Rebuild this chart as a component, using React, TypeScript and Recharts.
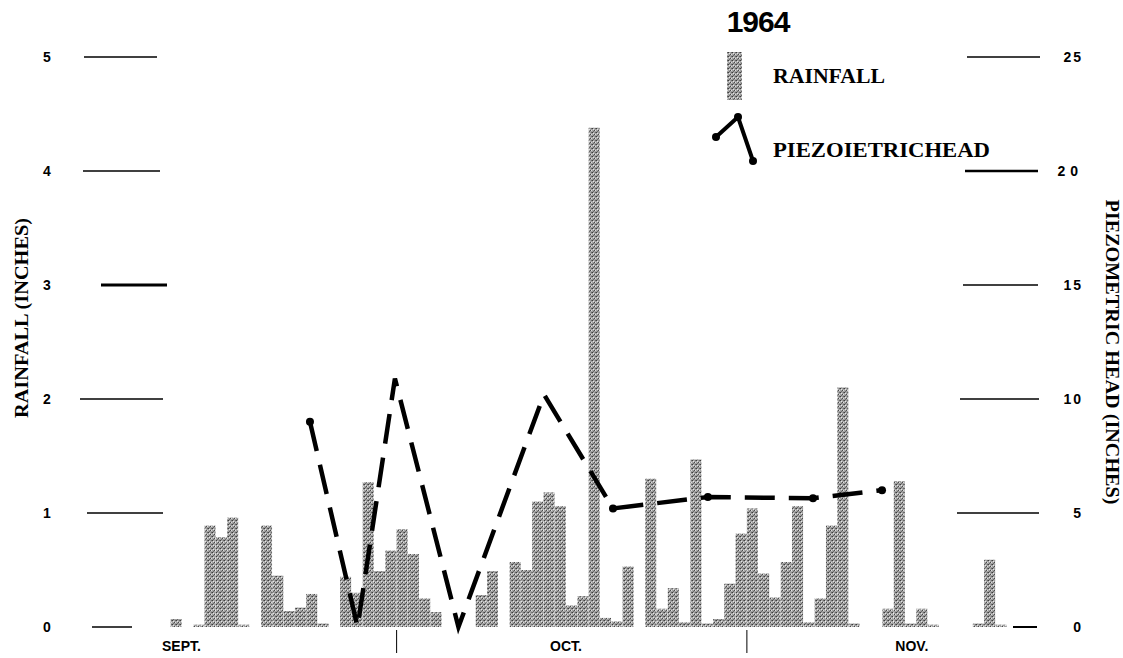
import { ComposedChart, Bar, Line, XAxis, YAxis, Legend } from "recharts"

// daily rainfall (inches), one bar per day starting Sept. 11
const rainfall = [
  0.07, 0, 0.02, 0.89, 0.79, 0.96, 0.02, 0, 0.89, 0.45,
  0.14, 0.17, 0.29, 0.03, 0, 0.44, 0.3, 1.27, 0.49, 0.67,
  0.86, 0.64, 0.25, 0.13, 0, 0, 0, 0.28, 0.49, 0,
  0.57, 0.5, 1.1, 1.18, 1.06, 0.19, 0.27, 4.38, 0.08, 0.05,
  0.53, 0, 1.3, 0.16, 0.34, 0.04, 1.47, 0.03, 0.07, 0.38,
  0.82, 1.04, 0.47, 0.26, 0.57, 1.06, 0.04, 0.25, 0.89, 2.1,
  0.03, 0, 0, 0.16, 1.28, 0.03, 0.16, 0.02, 0, 0,
  0, 0.03, 0.59, 0.02,
]

// piezometric head readings (inches); marked = drawn with a dot in the original
const piezoDays = [12.33, 16.54, 19.85, 25.47, 33.04, 39.15, 47.55, 56.85, 62.96]
const piezoHead = [9.0, 0, 10.9, 0, 10.2, 5.2, 5.7, 5.65, 6.0]
const piezoMarked = [true, false, false, false, false, true, true, true, true]

const leftTicks = [0, 1, 2, 3, 4, 5]
const rightTicks = [0, 5, 10, 15, 20, 25]
const monthLabels = ["SEPT.", "OCT.", "NOV."]
const monthLabelDays = [0.96, 34.99, 65.6]
const monthBoundaryDays = [20.0, 51.0]

const rainData = rainfall.map((rain, i) => ({ day: i + 0.5, rain }))
const piezoData = piezoDays.map((day, i) => ({ day, head: piezoHead[i], marked: piezoMarked[i] }))

const DAY_DOMAIN: [number, number] = [-0.5, 76.5]
const SANS = "'Liberation Sans', Arial, sans-serif"
const SERIF = "'Liberation Serif', 'Times New Roman', serif"

// [x1, x2, strokeWidth] of the scanned stub lines
const leftStubs: Record<number, [number, number, number]> = {
  0: [92, 132, 1.5],
  1: [87, 163, 1.5],
  2: [80, 163, 1.5],
  3: [101, 167, 3],
  4: [83, 160, 1.5],
  5: [84, 157, 1.5],
}
const rightStubs: Record<number, [number, number, number]> = {
  0: [1013, 1037, 2],
  5: [957, 1039, 1.5],
  10: [960, 1039, 1.5],
  15: [963, 1038, 1.5],
  20: [965, 1038, 2.5],
  25: [967, 1040, 1.5],
}

function LeftTick({ y, payload }: any) {
  const [x1, x2, w] = leftStubs[payload.value] ?? [85, 160, 1.5]
  return (
    <g>
      <line x1={x1} x2={x2} y1={y} y2={y} stroke="#000" strokeWidth={w} />
      <text x={47} y={y} dy={5} textAnchor="middle" fontFamily={SANS} fontWeight="bold" fontSize={14} fill="#000">
        {payload.value}
      </text>
    </g>
  )
}

function RightTick({ y, payload }: any) {
  const [x1, x2, w] = rightStubs[payload.value] ?? [960, 1039, 1.5]
  return (
    <g>
      <line x1={x1} x2={x2} y1={y} y2={y} stroke="#000" strokeWidth={w} />
      <text
        x={1083}
        y={y}
        dy={5}
        textAnchor="end"
        fontFamily={SANS}
        fontWeight="bold"
        fontSize={14}
        letterSpacing={payload.value === 20 ? 5 : 2}
        fill="#000"
      >
        {payload.value}
      </text>
    </g>
  )
}

function MonthTick({ x, payload }: any) {
  if (monthBoundaryDays.includes(payload.value)) {
    return <line x1={x} x2={x} y1={630} y2={653} stroke="#000" strokeWidth={1} />
  }
  const label = monthLabels[monthLabelDays.indexOf(payload.value)]
  return (
    <text x={x} y={651} textAnchor="middle" fontFamily={SANS} fontWeight="bold" fontSize={14} fill="#000">
      {label}
    </text>
  )
}

function HeadDot({ cx, cy, payload }: any) {
  if (!payload || !payload.marked) return <g />
  return <circle cx={cx} cy={cy} r={4} fill="#000" />
}

function LegendBox({ payload }: any) {
  const items = payload ?? []
  const rainName = items.find((p: any) => p.dataKey === "rain")?.value ?? "RAINFALL"
  const headName = items.find((p: any) => p.dataKey === "head")?.value ?? "PIEZOIETRICHEAD"
  return (
    <svg width={1123} height={170} style={{ display: "block" }}>
      <text x={758} y={32} textAnchor="middle" fontFamily={SANS} fontWeight="bold" fontSize={30} letterSpacing={-1} fill="#000">
        1964
      </text>
      <rect x={727} y={52} width={15} height={48} fill="url(#halftone)" />
      <text x={773} y={83} fontFamily={SERIF} fontWeight="bold" fontSize={21} textLength={112} lengthAdjust="spacingAndGlyphs" fill="#000">
        {rainName}
      </text>
      <polyline points="716,137 738,117 753,161" fill="none" stroke="#000" strokeWidth={4} />
      <circle cx={716} cy={137} r={4} fill="#000" />
      <circle cx={738} cy={117} r={4} fill="#000" />
      <circle cx={753} cy={161} r={4} fill="#000" />
      <text x={773} y={157} fontFamily={SERIF} fontWeight="bold" fontSize={21} textLength={217} lengthAdjust="spacingAndGlyphs" fill="#000">
        {headName}
      </text>
    </svg>
  )
}

export default function App() {
  return (
    <div style={{ position: "absolute", left: 0, top: 0, width: 1123, height: 658, background: "#fff" }}>
      <ComposedChart
        width={1123}
        height={658}
        data={rainData}
        barCategoryGap={0}
        barGap={0}
        margin={{ top: 57, right: 0, bottom: 0, left: 0 }}
      >
        <defs>
          <pattern id="halftone" width={4} height={4} patternUnits="userSpaceOnUse">
            <rect width={4} height={4} fill="#a2a2a2" />
            <rect x={0} y={0} width={1} height={1} fill="#3c3c3c" />
            <rect x={2} y={2} width={1} height={1} fill="#4a4a4a" />
            <rect x={3} y={0} width={1} height={1} fill="#6a6a6a" />
            <rect x={1} y={3} width={1} height={1} fill="#6a6a6a" />
            <rect x={1} y={1} width={1} height={1} fill="#e6e6e6" />
            <rect x={3} y={2} width={1} height={1} fill="#dcdcdc" />
          </pattern>
        </defs>
        <XAxis
          xAxisId="days"
          dataKey="day"
          type="number"
          domain={DAY_DOMAIN}
          ticks={[...monthLabelDays, ...monthBoundaryDays]}
          interval={0}
          height={31}
          axisLine={false}
          tickLine={false}
          tick={<MonthTick />}
        />
        <XAxis xAxisId="piezo" dataKey="day" type="number" domain={DAY_DOMAIN} hide />
        <YAxis
          yAxisId="left"
          orientation="left"
          width={165}
          domain={[0, 5]}
          ticks={leftTicks}
          interval={0}
          axisLine={false}
          tickLine={false}
          tick={<LeftTick />}
          label={{
            content: () => (
              <text
                x={22}
                y={318}
                transform="rotate(-90 22 318)"
                textAnchor="middle"
                dominantBaseline="central"
                fontFamily={SERIF}
                fontWeight="bold"
                fontSize={18}
                textLength={200}
                lengthAdjust="spacingAndGlyphs"
                fill="#000"
              >
                RAINFALL (INCHES)
              </text>
            ),
          }}
        />
        <YAxis
          yAxisId="right"
          orientation="right"
          width={88}
          domain={[0, 25]}
          ticks={rightTicks}
          interval={0}
          axisLine={false}
          tickLine={false}
          tick={<RightTick />}
          label={{
            content: () => (
              <text
                x={1112}
                y={352}
                transform="rotate(90 1112 352)"
                textAnchor="middle"
                dominantBaseline="central"
                fontFamily={SERIF}
                fontWeight="bold"
                fontSize={18}
                textLength={305}
                lengthAdjust="spacingAndGlyphs"
                fill="#000"
              >
                PIEZOMETRIC HEAD (INCHES)
              </text>
            ),
          }}
        />
        <Bar xAxisId="days" yAxisId="left" dataKey="rain" name="RAINFALL" fill="url(#halftone)" isAnimationActive={false} />
        <Line
          xAxisId="piezo"
          yAxisId="right"
          data={piezoData}
          dataKey="head"
          name="PIEZOIETRICHEAD"
          type="linear"
          stroke="#000"
          strokeWidth={4.5}
          strokeDasharray="30 14"
          strokeLinejoin="miter"
          dot={<HeadDot />}
          activeDot={false}
          isAnimationActive={false}
        />
        <Legend
          layout="horizontal"
          verticalAlign="middle"
          align="center"
          content={<LegendBox />}
          wrapperStyle={{ position: "absolute", left: 0, top: 0, width: 1123, height: 170, pointerEvents: "none" }}
        />
      </ComposedChart>
    </div>
  )
}
